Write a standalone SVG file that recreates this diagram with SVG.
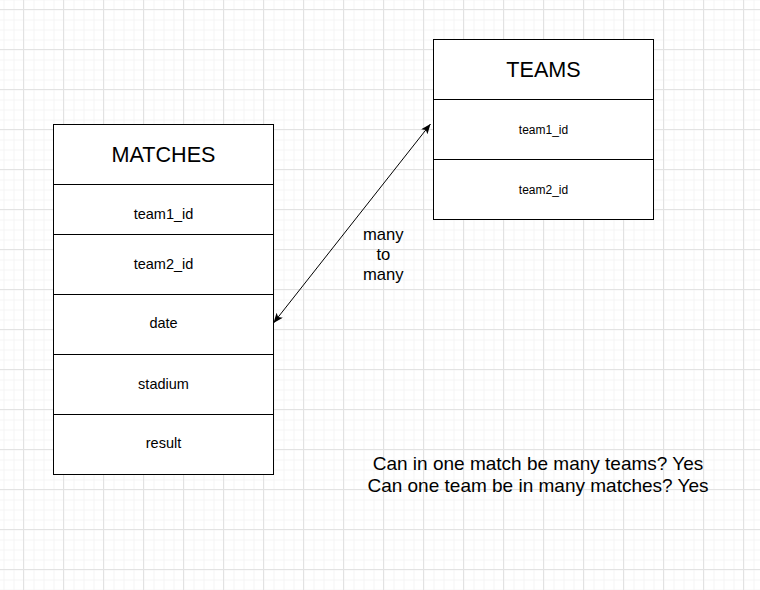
<svg xmlns="http://www.w3.org/2000/svg" width="760" height="590" viewBox="0 0 760 590">
  <style>
    .box { fill: #ffffff; stroke: #000000; stroke-width: 1; }
    .sep { stroke: #000000; stroke-width: 1; }
    .title { font-family: "Liberation Sans", Arial, sans-serif; fill: #000000; text-anchor: middle; }
    .field { font-family: "Liberation Sans", Arial, sans-serif; fill: #000000; text-anchor: middle; }
    .label { font-family: "Liberation Sans", Arial, sans-serif; fill: #000000; text-anchor: middle; }
    .conn { fill: none; stroke: #000000; stroke-width: 1; }
  </style>
  <defs>
    <pattern id="minor" patternUnits="userSpaceOnUse" x="3.5" y="-0.5" width="10" height="10">
      <path d="M0,0.5 H10 M0.5,0 V10" fill="none" stroke="#f4f4f4" stroke-width="1"/>
    </pattern>
    <pattern id="major" patternUnits="userSpaceOnUse" x="23" y="9" width="40" height="40">
      <path d="M0,0.5 H40 M0.5,0 V40" fill="none" stroke="#e2e2e2" stroke-width="1"/>
    </pattern>
    <marker id="arrow" markerUnits="userSpaceOnUse" markerWidth="12" markerHeight="10" refX="10" refY="4" orient="auto-start-reverse" viewBox="0 0 12 10">
      <path d="M0,0 L10,4 L0,8 L2.5,4 Z" fill="#000000"/>
    </marker>
  </defs>

  <rect width="760" height="590" fill="#ffffff"/>
  <rect width="760" height="590" fill="url(#minor)"/>
  <rect width="760" height="590" fill="url(#major)"/>

  <g id="connectors">
    <line class="conn" x1="273.5" y1="323" x2="430.5" y2="124" marker-start="url(#arrow)" marker-end="url(#arrow)"/>
  </g>

  <g id="matches">
    <rect class="box" x="53.5" y="124.5" width="220" height="350"/>
    <line class="sep" x1="53.5" y1="184.5" x2="273.5" y2="184.5"/>
    <line class="sep" x1="53.5" y1="234.5" x2="273.5" y2="234.5"/>
    <line class="sep" x1="53.5" y1="294.5" x2="273.5" y2="294.5"/>
    <line class="sep" x1="53.5" y1="354.5" x2="273.5" y2="354.5"/>
    <line class="sep" x1="53.5" y1="414.5" x2="273.5" y2="414.5"/>
    <text class="title" x="163.5" y="162" font-size="21.6">MATCHES</text>
    <text class="field" x="163.5" y="219.3" font-size="14.5">team1_id</text>
    <text class="field" x="163.5" y="268.7" font-size="14.5">team2_id</text>
    <text class="field" x="163.5" y="328.3" font-size="14.5">date</text>
    <text class="field" x="163.5" y="389" font-size="14.5">stadium</text>
    <text class="field" x="163.5" y="448.3" font-size="14.5">result</text>
  </g>

  <g id="teams">
    <rect class="box" x="433.5" y="39.5" width="220" height="180"/>
    <line class="sep" x1="433.5" y1="99.5" x2="653.5" y2="99.5"/>
    <line class="sep" x1="433.5" y1="159.5" x2="653.5" y2="159.5"/>
    <text class="title" x="543.5" y="76.7" font-size="21.6">TEAMS</text>
    <text class="field" x="543.5" y="134" font-size="12">team1_id</text>
    <text class="field" x="543.5" y="194" font-size="12">team2_id</text>
  </g>

  <g id="relation-label">
    <text class="label" x="383.3" y="240" font-size="16.6">many</text>
    <text class="label" x="383.3" y="259.5" font-size="16.6">to</text>
    <text class="label" x="383.3" y="279.5" font-size="16.6">many</text>
  </g>

  <g id="question-note">
    <text class="label" x="538" y="470" font-size="19">Can in one match be many teams? Yes</text>
    <text class="label" x="538" y="491.7" font-size="19">Can one team be in many matches? Yes</text>
  </g>
</svg>
